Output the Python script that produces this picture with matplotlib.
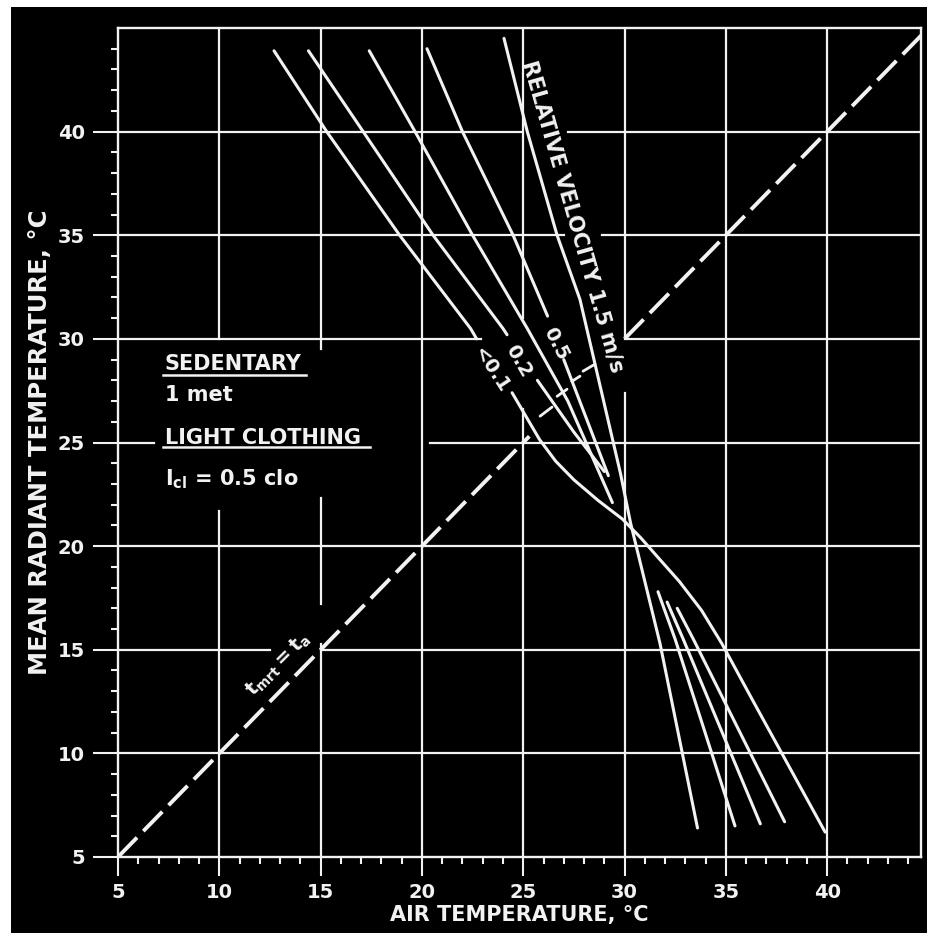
import matplotlib
matplotlib.use("Agg")
import matplotlib.pyplot as plt
from matplotlib.patches import Rectangle

# comfort lines, air temperature (x) vs mean radiant temperature (y)
# each line: upper part, lower part (gap around labels / crossing)
v01_upper_x = [12.7, 15.3, 18.9, 22.4, 22.7]
v01_upper_y = [43.9, 40.0, 35.0, 30.5, 30.0]
v01_lower_x = [24.45, 25.8, 26.6, 27.5, 28.7, 29.9, 30.8, 31.7, 32.7, 33.8, 34.8, 36.3, 39.9]
v01_lower_y = [27.4, 25.15, 24.1, 23.2, 22.2, 21.3, 20.4, 19.4, 18.3, 16.9, 15.3, 12.6, 6.2]

v02_upper_x = [14.4, 17.1, 20.55, 24.0, 24.2]
v02_upper_y = [43.9, 40.0, 35.0, 30.5, 30.2]
v02_mid_x = [25.7, 27.5, 29.0]
v02_mid_y = [28.0, 25.5, 23.6]
v02_lower_x = [32.6, 33.4, 37.9]
v02_lower_y = [17.0, 15.5, 6.7]

v10_upper_x = [17.4, 19.66, 22.5, 25.2, 27.2, 29.4]
v10_upper_y = [43.9, 40.0, 35.0, 30.5, 27.0, 22.1]
v10_lower_x = [32.1, 32.9, 36.7]
v10_lower_y = [17.3, 15.5, 6.6]

v05_upper_x = [20.25, 22.0, 24.5, 26.2]
v05_upper_y = [44.0, 40.0, 35.0, 31.1]
v05_mid_x = [27.0, 29.2]
v05_mid_y = [29.0, 23.4]
v05_lower_x = [31.65, 32.5, 35.45]
v05_lower_y = [17.8, 15.5, 6.5]

v15_x = [24.05, 25.2, 26.67, 27.8, 29.8, 30.3, 31.75, 33.6]
v15_y = [44.5, 40.0, 35.0, 31.9, 23.5, 21.1, 15.3, 6.4]

# short leader marks under the velocity labels (x0, y0, x1, y1)
leaders = [(25.83, 26.27, 26.42, 26.71), (26.67, 27.23, 27.16, 27.57),
           (27.4, 27.95, 27.8, 28.2), (27.95, 28.44, 28.54, 28.78)]

# t_mrt = t_a diagonal (gap where the velocity labels sit)
diag_a = [5, 25.3]
diag_b = [30, 45]

major = [5, 10, 15, 20, 25, 30, 35, 40]
minor = list(range(5, 45))

# grid lines and the stretches left blank in the original drawing
vgrid_gaps = {10: [(21.7, 30.0)], 15: [(15.3, 17.2), (22.3, 29.5)], 20: [],
              25: [(26.6, 31.0)], 30: [(27.4, 30.1)], 35: [], 40: []}
hgrid_gaps = {10: [], 15: [(12.5, 15.0)], 20: [], 25: [(6.8, 20.4)],
              30: [(22.9, 30.0)], 35: [(27.0, 28.9)], 40: [(24.9, 27.2)]}

W = "#f2f2f2"
plt.rcParams["font.weight"] = "bold"
plt.rcParams["axes.labelweight"] = "bold"

fig = plt.figure(figsize=(9.28, 9.33), dpi=100, facecolor="black")
# thin white margin on the left and top of the scan
fig.patches.append(Rectangle((0, 0), 11 / 928, 1, transform=fig.transFigure,
                             facecolor="white", edgecolor="none", zorder=-10))
fig.patches.append(Rectangle((0, 1 - 7 / 933), 1, 7 / 933, transform=fig.transFigure,
                             facecolor="white", edgecolor="none", zorder=-10))

ax = fig.add_axes([118 / 928, 1 - 857 / 933, (921 - 118) / 928, (857 - 28) / 933])
ax.set_facecolor("black")
ax.set_xlim(5, 44.63)
ax.set_ylim(5, 45)


def seg_line(fixed, lo, hi, gaps, vertical):
    pts = [lo]
    for g0, g1 in gaps:
        pts += [g0, g1]
    pts.append(hi)
    for i in range(0, len(pts), 2):
        if vertical:
            ax.plot([fixed, fixed], [pts[i], pts[i + 1]], color=W, lw=1.6, zorder=1)
        else:
            ax.plot([pts[i], pts[i + 1]], [fixed, fixed], color=W, lw=1.6, zorder=1)


for gx, gaps in vgrid_gaps.items():
    seg_line(gx, 5, 45, gaps, True)
for gy, gaps in hgrid_gaps.items():
    seg_line(gy, 5, 45, gaps, False)

for sp in ax.spines.values():
    sp.set_color(W)
    sp.set_linewidth(1.7)

ax.set_xticks(major)
ax.set_yticks(major)
ax.set_xticks(minor, minor=True)
ax.set_yticks(minor, minor=True)
ax.tick_params(axis="both", which="both", colors=W, direction="out", labelsize=14)
ax.tick_params(axis="x", which="major", length=14, width=1.5, pad=5)
ax.tick_params(axis="y", which="major", length=18, width=1.5, pad=6)
ax.tick_params(axis="both", which="minor", length=5, width=1.5)

# comfort lines
lw = 2.2
for xs, ys in [(v01_upper_x, v01_upper_y), (v01_lower_x, v01_lower_y),
               (v02_upper_x, v02_upper_y), (v02_mid_x, v02_mid_y), (v02_lower_x, v02_lower_y),
               (v10_upper_x, v10_upper_y), (v10_lower_x, v10_lower_y),
               (v05_upper_x, v05_upper_y), (v05_mid_x, v05_mid_y), (v05_lower_x, v05_lower_y),
               (v15_x, v15_y)]:
    ax.plot(xs, ys, color=W, lw=lw, solid_capstyle="round", solid_joinstyle="round", zorder=3)

for x0, y0, x1, y1 in leaders:
    ax.plot([x0, x1], [y0, y1], color=W, lw=2.0, solid_capstyle="round", zorder=3)

ax.plot(diag_a, diag_a, color=W, lw=2.8, linestyle=(0, (7, 2.3)), zorder=3)
ax.plot(diag_b, diag_b, color=W, lw=2.8, linestyle=(0, (7, 2.3)), zorder=3)

# labels on the lines
ax.text(23.4, 28.5, "<0.1", color=W, fontsize=14, rotation=-57,
        ha="center", va="center", rotation_mode="anchor", zorder=4)
ax.text(24.75, 28.95, "0.2", color=W, fontsize=14, rotation=-60,
        ha="center", va="center", rotation_mode="anchor", zorder=4)
ax.text(26.6, 29.75, "0.5", color=W, fontsize=14, rotation=-63,
        ha="center", va="center", rotation_mode="anchor", zorder=4)
ax.text(25.25, 43.4, "RELATIVE VELOCITY 1.5 m/s", color=W, fontsize=15, rotation=-74,
        ha="left", va="center", rotation_mode="anchor", zorder=4)
ax.text(12.9, 14.3, r"$\mathbf{t_{mrt} = t_a}$", color=W, fontsize=14, rotation=45,
        ha="center", va="center", rotation_mode="anchor", zorder=4)

# condition text block
ax.text(7.3, 28.5, "SEDENTARY", color=W, fontsize=15, zorder=4)
ax.plot([7.2, 14.3], [28.25, 28.25], color=W, lw=1.8, zorder=4)
ax.text(7.3, 27.0, "1 met", color=W, fontsize=15, zorder=4)
ax.text(7.3, 24.95, "LIGHT CLOTHING", color=W, fontsize=15, zorder=4)
ax.plot([7.2, 17.45], [24.78, 24.78], color=W, lw=1.8, zorder=4)
ax.text(7.3, 22.95, r"I$_{\mathbf{cl}}$ = 0.5 clo", color=W, fontsize=15, zorder=4)

ax.set_xlabel("AIR TEMPERATURE, °C", color=W, fontsize=15, labelpad=2)
ax.set_ylabel("MEAN RADIANT TEMPERATURE, °C", color=W, fontsize=17.5, labelpad=4)

fig.savefig("out.png", dpi=100, facecolor=fig.get_facecolor())
